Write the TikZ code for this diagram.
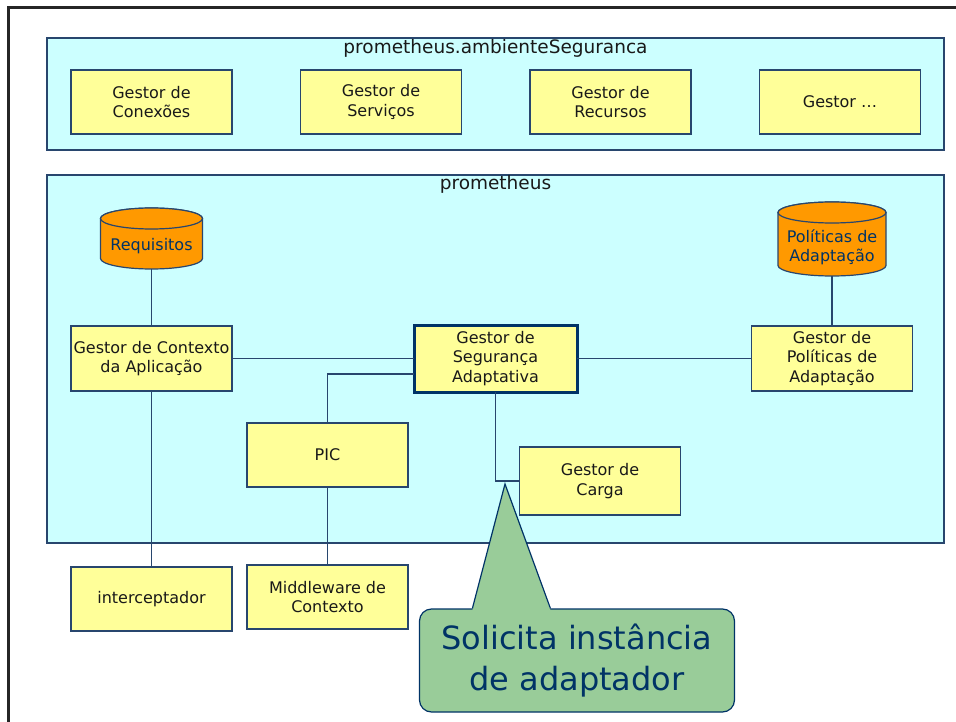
\documentclass[tikz,border=0pt]{standalone}
\usepackage{fontspec}
\setmainfont{DejaVu Sans}
\usetikzlibrary{calc}
\usetikzlibrary{positioning}

\definecolor{ceu}{RGB}{204,255,255}
\definecolor{creme}{RGB}{255,255,153}
\definecolor{laranja}{RGB}{255,153,0}
\definecolor{verde}{RGB}{153,204,153}
\definecolor{marinho}{RGB}{0,51,102}
\definecolor{contorno}{RGB}{40,70,110}

\tikzset{
  pacote/.style={draw=contorno, fill=ceu, line width=1.2pt, minimum width=897pt, inner sep=0pt},
  rotulo/.style={inner sep=0pt, text=black!90, font=\fontsize{18.5}{20}\selectfont},
  gestor/.style={draw=contorno, fill=creme, line width=1.2pt, minimum width=161pt, minimum height=64pt,
    inner sep=0pt, outer sep=0pt, align=center, text=black!90, font=\fontsize{16}{19.5}\selectfont},
  repositorio/.style={draw=contorno, fill=laranja, line width=1.2pt},
  repotexto/.style={inner sep=0pt, align=center, text=marinho, font=\fontsize{16}{19}\selectfont},
  liga/.style={draw=contorno, line width=1.2pt},
  nota/.style={draw=marinho, fill=verde, line width=1.2pt, rounded corners=12pt, minimum width=315pt,
    minimum height=103pt, inner sep=0pt, align=center, text=marinho, font=\fontsize{32}{41}\selectfont},
}

\begin{document}
\begin{tikzpicture}[x=1pt, y=-1pt, node distance=0pt and 68.5pt]
\useasboundingbox (0,0) rectangle (956,722);
% Moldura do slide
\draw[line width=3pt, black!85] (8.5,722) -- (8.5,7.5) -- (956,7.5);

% Pacote prometheus.ambienteSeguranca
\node (amb) [pacote, minimum height=112pt] at (495.5,94) {};
\node (ambrot) [rotulo, anchor=base] at ($(amb.north)+(0,16)$) {prometheus.ambienteSeguranca};

% Gestores do ambiente
\node (conex) [gestor] at (151.5,102) {Gestor de\\Conexões};
\node (serv) [gestor, right=of conex] {Gestor de\\Serviços};
\node (recur) [gestor, right=of serv] {Gestor de\\Recursos};
\node (outro) [gestor, right=of recur] {Gestor …};

% Pacote prometheus
\node (prom) [pacote, minimum height=368pt] at (495.5,359) {};
\node (promrot) [rotulo, anchor=base] at ($(prom.north)+(0,15)$) {prometheus};

% Repositorios (caixas invisiveis + cilindro desenhado)
\node (req) [minimum width=102pt, minimum height=61pt, inner sep=0pt, outer sep=0pt] at (151.5,238.5) {};
\node (polrep) [minimum width=108pt, minimum height=74pt, inner sep=0pt, outer sep=0pt] at (832,239) {};
\foreach \r/\rx in {req/51, polrep/54}{
  \path[repositorio] ($(\r.north west)+(0,10.5)$) -- ($(\r.south west)+(0,-10.5)$)
    arc[start angle=180, end angle=360, x radius=\rx pt, y radius=10.5pt]
    -- ($(\r.north east)+(0,10.5)$)
    arc[start angle=0, end angle=180, x radius=\rx pt, y radius=10.5pt] -- cycle;
  \draw[repositorio] ($(\r.north)+(0,10.5)$) ellipse[x radius=\rx pt, y radius=10.5pt];
}
\node (reqtxt) [repotexto] at (151.5,246) {Requisitos};
\node (polreptxt) [repotexto] at (832,247) {Políticas de\\Adaptação};

% Gestores internos
\node (ctx) [gestor, minimum height=65pt] at (151.5,358.5) {Gestor de Contexto\\da Aplicação};
\node (seg) [gestor, draw=marinho, line width=3pt, minimum width=163pt, minimum height=67pt]
  at (495.5,358.5) {Gestor de\\Segurança\\Adaptativa};
\node (polgest) [gestor, minimum height=65pt] at (832,358.5) {Gestor de\\Políticas de\\Adaptação};
\node (pic) [gestor] at (327.5,455) {PIC};
\node (carga) [gestor, minimum height=68pt] at (600,481) {Gestor de\\Carga};

% Fora do pacote
\node (inter) [gestor] at (151.5,599) {interceptador};
\node (mw) [gestor] at (327.5,597) {Middleware de\\Contexto};

% Ligacoes
\draw[liga] (req) -- (ctx);
\draw[liga] (polrep) -- (polgest);
\draw[liga] (ctx) -- (seg);
\draw[liga] (seg) -- (polgest);
\draw[liga] (ctx) -- (inter);
\draw[liga] (pic) -- (mw);
\draw[liga] (pic.north) |- ($(seg.south west)!0.27!(seg.north west)$);
\draw[liga] (seg.south) |- (carga.west);

% Balao
\node (aviso) [nota] at (577,660.5) {Solicita instância\\de adaptador};
\coordinate (ponta) at (505,484);
\fill[verde] ($(aviso.north west)+(53.5,1.5)$) -- (ponta) -- ($(aviso.north west)+(131.5,1.5)$) -- cycle;
\draw[liga, draw=marinho] ($(aviso.north west)+(53.5,0)$) -- (ponta) -- ($(aviso.north west)+(131.5,0)$);
\end{tikzpicture}
\end{document}
